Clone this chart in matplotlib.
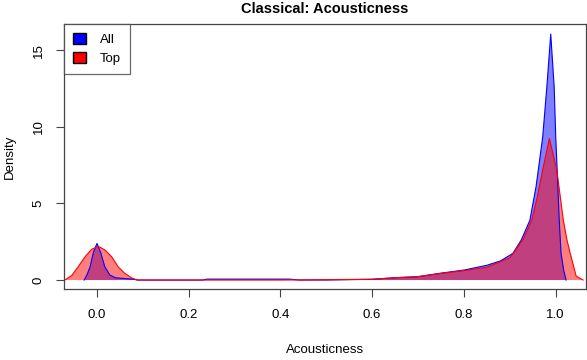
import matplotlib.pyplot as plt
from matplotlib.patches import Patch

# density estimates
all_x = [-0.028, -0.022, -0.015, -0.008, 0.0, 0.008, 0.017, 0.028, 0.04, 0.06, 0.08, 0.09,
         0.15, 0.23, 0.24, 0.3, 0.35, 0.42, 0.44, 0.5, 0.6, 0.65, 0.7, 0.75, 0.8, 0.85,
         0.88, 0.907, 0.925, 0.944, 0.9575, 0.972, 0.981, 0.9895, 0.997, 1.0004, 1.005,
         1.008, 1.012, 1.018, 1.023]
all_y = [0.0, 0.33, 0.87, 1.8, 2.39, 1.8, 0.87, 0.33, 0.15, 0.1, 0.05, 0.0,
         0.0, 0.0, 0.06, 0.06, 0.06, 0.06, 0.0, 0.0, 0.05, 0.15, 0.22, 0.45, 0.65, 0.96,
         1.25, 1.74, 2.6, 3.9, 6.1, 9.35, 12.6, 16.05, 12.6, 9.35, 6.1,
         3.9, 1.74, 0.6, 0.0]

top_x = [-0.07, -0.055, -0.041, -0.026, -0.012, 0.003, 0.018, 0.032, 0.046, 0.06, 0.075, 0.087,
         0.2, 0.4, 0.6, 0.65, 0.7, 0.75, 0.8, 0.85, 0.9, 0.907, 0.93, 0.948, 0.96, 0.972,
         0.9866, 1.0026, 1.01, 1.017, 1.025, 1.032, 1.045, 1.06]
top_y = [0.0, 0.3, 0.87, 1.52, 2.0, 2.2, 1.95, 1.52, 0.87, 0.45, 0.15, 0.0,
         0.0, 0.0, 0.05, 0.15, 0.22, 0.43, 0.61, 0.83, 1.45, 1.7, 2.7, 3.9, 5.4, 7.2,
         9.24, 7.2, 5.5, 3.9, 2.6, 1.74, 0.25, 0.0]

x_ticks = [0.0, 0.2, 0.4, 0.6, 0.8, 1.0]
y_ticks = [0, 5, 10, 15]

plt.rcParams['font.family'] = ['Liberation Sans', 'DejaVu Sans']

fig = plt.figure(figsize=(5.87, 3.6), dpi=100)
ax = fig.add_axes([0.109, 0.197, 0.889, 0.736])

ax.fill(all_x, all_y, color=(0, 0, 1, 0.5), lw=0)
ax.plot(all_x, all_y, color='blue', lw=0.8)
ax.fill(top_x, top_y, color=(1, 0, 0, 0.5), lw=0)
ax.plot(top_x, top_y, color='red', lw=0.8)

ax.set_xlim(-0.072, 1.066)
ax.set_ylim(-0.59, 16.7)
ax.set_xticks(x_ticks)
ax.set_xticklabels(['0.0', '0.2', '0.4', '0.6', '0.8', '1.0'])
ax.set_yticks(y_ticks)
ax.set_yticklabels([str(v) for v in y_ticks], rotation=90, va='center')
ax.tick_params(direction='out', length=6, width=0.8, colors='#444444',
               labelcolor='black', labelsize=9.5, pad=8)
for s in ax.spines.values():
    s.set_color('#444444')
    s.set_linewidth(0.9)

ax.set_title('Classical: Acousticness', fontsize=10.5, fontweight='bold', pad=8)
ax.set_xlabel('Acousticness', fontsize=9.5, labelpad=17)
ax.set_ylabel('Density', fontsize=9.5, labelpad=12)

handles = [Patch(facecolor='blue', edgecolor='black', label='All'),
           Patch(facecolor='red', edgecolor='black', label='Top')]
leg = ax.legend(handles=handles, loc='upper left', borderaxespad=0, fancybox=False,
                fontsize=9.5, handlelength=1.0, handleheight=0.9, handletextpad=1.0,
                borderpad=0.7, labelspacing=0.4)
leg.get_frame().set_edgecolor('#444444')
leg.get_frame().set_linewidth(0.9)

fig.savefig('out.png', dpi=100)
